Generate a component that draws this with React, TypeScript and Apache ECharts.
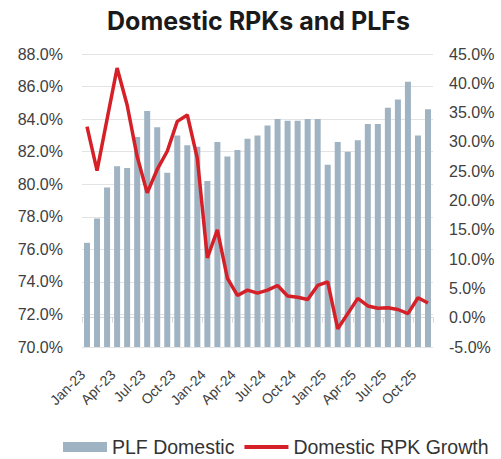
import React, { useEffect, useRef } from "react";
import * as echarts from "echarts";

const months = [
  "Jan-23","Feb-23","Mar-23","Apr-23","May-23","Jun-23","Jul-23","Aug-23","Sep-23","Oct-23","Nov-23","Dec-23",
  "Jan-24","Feb-24","Mar-24","Apr-24","May-24","Jun-24","Jul-24","Aug-24","Sep-24","Oct-24","Nov-24","Dec-24",
  "Jan-25","Feb-25","Mar-25","Apr-25","May-25","Jun-25","Jul-25","Aug-25","Sep-25","Oct-25","Nov-25",
];
const plfDomestic = [
  76.4, 77.9, 79.8, 81.1, 81.0, 82.9, 84.5, 83.5, 80.7, 83.0, 82.4, 82.3,
  80.2, 82.6, 81.7, 82.1, 82.8, 83.0, 83.6, 84.0, 83.9, 83.9, 84.0, 84.0,
  81.2, 82.6, 82.0, 82.7, 83.7, 83.7, 84.7, 85.2, 86.3, 83.0, 84.6,
];
const rpkGrowth = [
  32.6, 25.1, 33.9, 42.6, 36.3, 27.5, 21.3, 25.3, 28.4, 33.5, 34.6, 27.2,
  10.2, 15.0, 6.7, 3.8, 4.7, 4.2, 4.7, 5.5, 3.7, 3.5, 3.1, 5.5,
  6.1, -1.9, 0.7, 3.3, 2.0, 1.6, 1.7, 1.4, 0.7, 3.4, 2.5,
];

const FONT = "'Liberation Sans', Arial, sans-serif";
const TITLE_FONT = "Inter, 'Liberation Sans', sans-serif";

export default function App() {
  const ref = useRef<HTMLDivElement>(null);
  useEffect(() => {
    if (!ref.current) return;
    const chart = echarts.init(ref.current, undefined, { renderer: "svg" });
    chart.setOption({
      animation: false,
      textStyle: { fontFamily: FONT },
      title: {
        text: "Domestic RPKs and PLFs",
        left: 102,
        top: 3,
        textStyle: { fontSize: 25, fontWeight: "bold", color: "#1a1a1a", fontFamily: TITLE_FONT },
      },
      grid: { left: 82, right: 68, top: 54, bottom: 112 },
      legend: {
        top: 432,
        left: 58,
        itemWidth: 44,
        itemHeight: 10,
        itemGap: 10,
        textStyle: { fontSize: 19.5, color: "#333", fontFamily: FONT },
        data: [
          { name: "PLF Domestic", icon: "rect" },
          { name: "Domestic RPK Growth", icon: "path://M0,0 L100,0 L100,9 L0,9 Z" },
        ],
      },
      xAxis: {
        type: "category",
        data: months,
        axisLine: { show: true, lineStyle: { color: "#d9d9d9" } },
        axisTick: { show: true, interval: 2, length: 5, lineStyle: { color: "#d9d9d9" } },
        axisLabel: { interval: 2, rotate: 45, fontSize: 14, color: "#404040", margin: 21, padding: [0, 6, 0, 0] },
      },
      yAxis: [
        {
          type: "value",
          min: 70,
          max: 88,
          interval: 2,
          axisLine: { show: false },
          axisTick: { show: false },
          splitLine: { lineStyle: { color: "#e3e3e3" } },
          axisLabel: { fontSize: 16, color: "#404040", margin: 19, formatter: (v: number) => v.toFixed(1) + "%" },
        },
        {
          type: "value",
          min: -5,
          max: 45,
          interval: 5,
          axisLine: { show: false },
          axisTick: { show: false },
          splitLine: { show: false },
          axisLabel: { fontSize: 16, color: "#404040", margin: 16, formatter: (v: number) => v.toFixed(1) + "%" },
        },
      ],
      series: [
        {
          name: "PLF Domestic",
          type: "bar",
          data: plfDomestic,
          barWidth: 6,
          itemStyle: { color: "#9fb3c2" },
        },
        {
          name: "Domestic RPK Growth",
          type: "line",
          yAxisIndex: 1,
          data: rpkGrowth,
          symbol: "none",
          lineStyle: { color: "#d52028", width: 3.5 },
          itemStyle: { color: "#d52028" },
        },
      ],
    });
    return () => chart.dispose();
  }, []);
  return <div ref={ref} style={{ width: 501, height: 459, position: "absolute", left: 0, top: 0 }} />;
}
